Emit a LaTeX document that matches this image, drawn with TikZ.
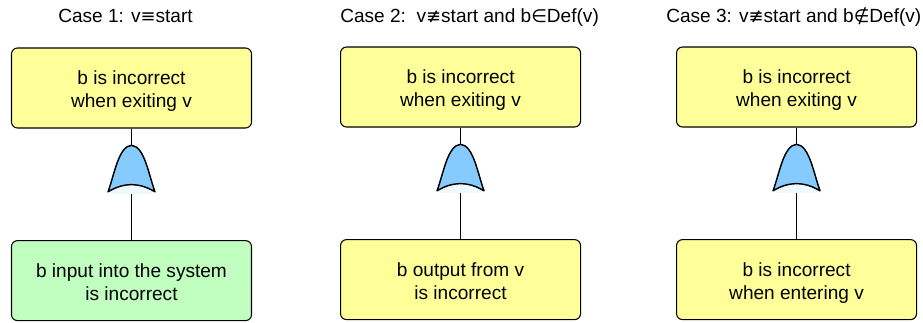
\documentclass[tikz,border=0pt]{standalone}
\usepackage{fontspec}
\setmainfont{Liberation Sans}
\newfontfamily\symfont{DejaVu Sans}
\usepackage{tikz}
\usetikzlibrary{calc,positioning}
\definecolor{factyellow}{HTML}{FFFF99}
\definecolor{factgreen}{HTML}{C0FFC0}
\definecolor{gateblue}{HTML}{85CBFF}
\definecolor{gatepale}{HTML}{EEF8FF}
\newcommand{\sym}[1]{{\symfont\fontsize{13.5}{15}\selectfont #1}}
\newcommand{\factlines}[2]{\raisebox{-6.2pt}[0pt][0pt]{\begin{tabular}{@{}c@{}}#1\\#2\end{tabular}}}
\tikzset{
  fact/.style={draw=black, fill=factyellow, rounded corners=4.5pt, line width=0.8pt,
    minimum width=180pt, minimum height=60pt, inner sep=0pt, font=\fontsize{14.3}{17.4}\selectfont},
  input/.style={fact, fill=factgreen},
  casetitle/.style={inner sep=0pt, anchor=base west, font=\fontsize{14.3}{17.4}\selectfont},
  gatebox/.style={inner sep=0pt, minimum width=36pt, minimum height=36.75pt},
  link/.style={draw=black, line width=1pt}
}
% or gate, drawn around a named gatebox
\newcommand{\orgate}[1]{
  \begin{scope}[shift={(#1.center)}, x=0.75pt, y=0.75pt]
    \fill[gatepale] (-23.5,-22.5) .. controls (-8,-15) and (8,-15) .. (23.5,-22.5) -- (20,-24.5) -- (-20,-24.5) -- cycle;
    \draw[fill=gateblue, line width=1.1pt, line join=round] (-23.5,-22.5)
      .. controls (-17,-5) and (-13,23) .. (0,24)
      .. controls (13,23) and (17,-5) .. (23.5,-22.5)
      .. controls (8,-13) and (-8,-13) .. cycle;
  \end{scope}
}
\begin{document}
\begin{tikzpicture}
  \useasboundingbox (0,0) rectangle (692.25pt,-241.5pt);
  % first case
  \node [casetitle] (title1) at (43.5pt,-17pt) {Case 1: v\sym{≡}start};
  \node [fact] (top1) at (98.625pt,-66pt) {\factlines{b is incorrect}{when exiting v}};
  \node [gatebox, below=12pt of top1] (gate1) {};
  \node [input, below=34.5pt of gate1] (low1) {\factlines{b input into the system}{is incorrect}};
  % second case
  \node [casetitle] (title2) at (255pt,-16.5pt) {Case 2:\ \ v\sym{≢}start and b\sym{∈}Def(v)};
  \node [fact] (top2) at (345.4pt,-65.25pt) {\factlines{b is incorrect}{when exiting v}};
  \node [gatebox, below=12pt of top2] (gate2) {};
  \node [fact, below=34.5pt of gate2] (low2) {\factlines{b output from v}{is incorrect}};
  % third case
  \node [casetitle] (title3) at (499.5pt,-16.5pt) {Case 3: v\sym{≢}start and b\sym{∉}Def(v)};
  \node [fact] (top3) at (597.4pt,-65.25pt) {\factlines{b is incorrect}{when exiting v}};
  \node [gatebox, below=12pt of top3] (gate3) {};
  \node [fact, below=34.5pt of gate3] (low3) {\factlines{b is incorrect}{when entering v}};
  \foreach \i in {1,2,3} {
    \draw [link] (top\i) -- (gate\i.north);
    \draw [link] (gate\i.south) -- (low\i);
    \orgate{gate\i}
  }
\end{tikzpicture}
\end{document}
